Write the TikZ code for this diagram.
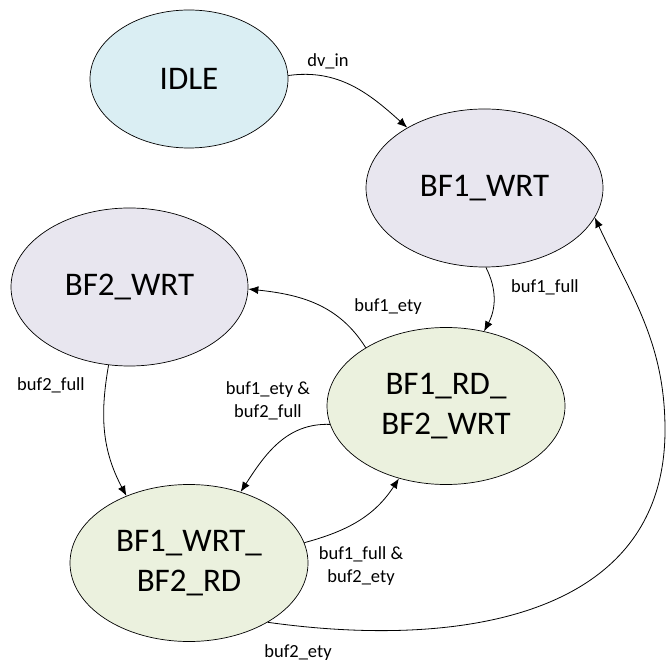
\documentclass[tikz,border=0pt]{standalone}
\usepackage{fontspec}
\setmainfont{Carlito}
\usepackage{tikz}
\usetikzlibrary{arrows.meta,shapes.geometric}
\definecolor{idlebl}{HTML}{DAEEF3}
\definecolor{wrtlav}{HTML}{E8E6EF}
\definecolor{rdgrn}{HTML}{EBF1DE}
\tikzset{
  etat/.style={draw,ellipse,line width=0.7pt,inner sep=0pt,align=center,
    font=\fontsize{33}{40}\selectfont},
  idl/.style={etat,fill=idlebl,minimum width=198pt,minimum height=138pt},
  wrt/.style={etat,fill=wrtlav,minimum width=237pt,minimum height=158pt},
  rdw/.style={etat,fill=rdgrn,minimum width=238pt,minimum height=157pt},
  fl/.style={-{Latex[length=10pt,width=8pt]},line width=0.8pt},
  lbl/.style={font=\fontsize{18.5}{23}\selectfont,align=center,inner sep=0pt},
}
\begin{document}
\begin{tikzpicture}[x=1pt,y=1pt]
  \useasboundingbox (0,0) rectangle (668,664);
  % etats
  \node[idl] (idle) at (189,585) {IDLE};
  \node[wrt] (w1) at (484.5,476) {BF1\_WRT};
  \node[wrt] (w2) at (129.5,377) {BF2\_WRT};
  \node[rdw] (r1w2) at (446,258) {BF1\_RD\_\\BF2\_WRT};
  \node[rdw] (w1r2) at (189,101) {BF1\_WRT\_\\BF2\_RD};
  % transitions
  \draw[fl] (idle.2) to[out=8,in=138] (w1.142);
  \draw[fl] (w1.-89) to[out=-63,in=62] (r1w2.63);
  \draw[fl] (r1w2.144) to[out=122,in=-6] (w2.-1);
  \draw[fl] (w2.-105) to[out=-100,in=118] (w1r2.133);
  \draw[fl] (r1w2.189) to[out=178,in=57] (w1r2.54);
  \draw[fl] (w1r2.10) to[out=15,in=-123] (r1w2.237);
  \coordinate (coin) at (665,234);
  \draw[fl] (w1r2.-37) to[out=-8,in=-90,looseness=1.1] (coin)
    to[out=90,in=-65] (w1.-15);
  % conditions
  \node[lbl] (c1) at (328,603) {dv\_in};
  \node[lbl] (c2) at (545,377) {buf1\_full};
  \node[lbl] (c3) at (388,357) {buf1\_ety};
  \node[lbl] (c4) at (51,279) {buf2\_full};
  \node[lbl] (c5) at (268,263) {buf1\_ety \&\\buf2\_full};
  \node[lbl] (c6) at (361,98) {buf1\_full \&\\buf2\_ety};
  \node[lbl] (c7) at (298,11) {buf2\_ety};
\end{tikzpicture}
\end{document}
